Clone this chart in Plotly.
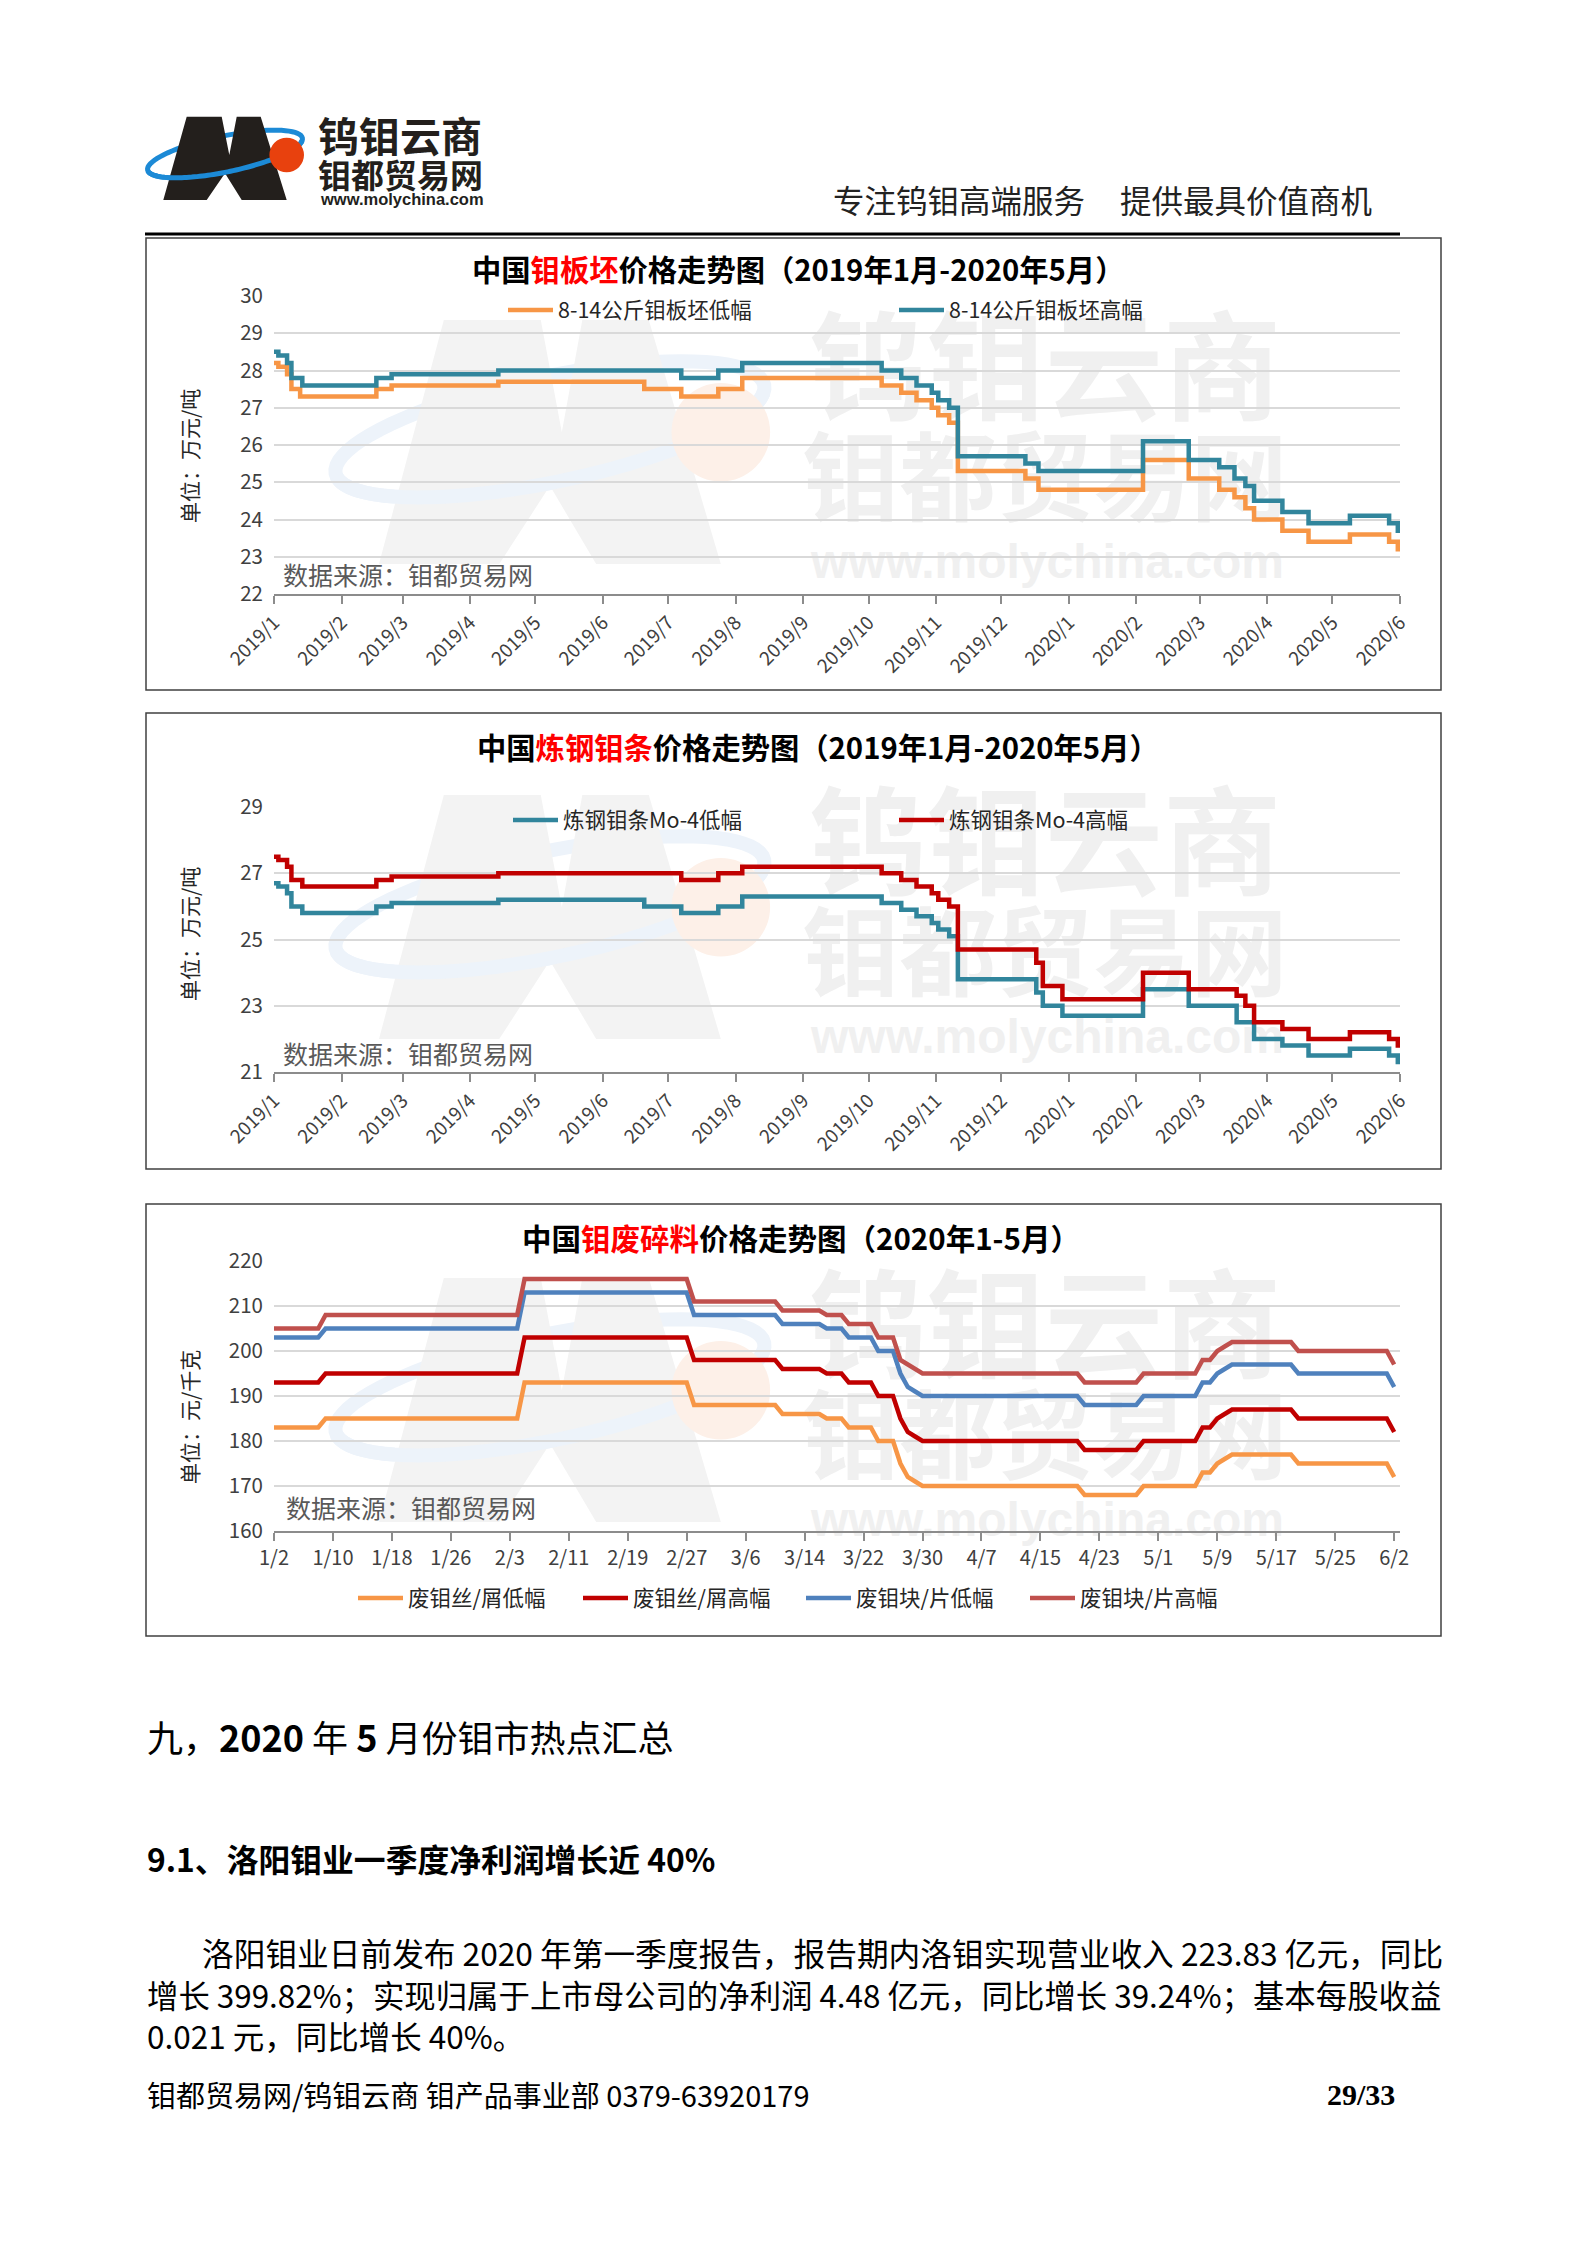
import math
import plotly.graph_objects as go

W, H = 1587, 2245
FONT = "Noto Sans CJK SC"

# ---------------- Chart 1 : 钼板坯 (万元/吨), step start dates ----------------
c1_low_dates = ["2019-01-01", "2019-01-03", "2019-01-07", "2019-01-09", "2019-01-13", "2019-02-17",
                "2019-02-24", "2019-04-14", "2019-06-20", "2019-07-07", "2019-07-24", "2019-08-04",
                "2019-10-07", "2019-10-16", "2019-10-23", "2019-10-30", "2019-11-02", "2019-11-07",
                "2019-11-11", "2019-12-12", "2019-12-18", "2020-02-04", "2020-02-25", "2020-03-10",
                "2020-03-17", "2020-03-22", "2020-03-26", "2020-04-08", "2020-04-20", "2020-05-09",
                "2020-05-27", "2020-05-31", "2020-06-01"]
c1_low_vals = [28.2, 28.1, 27.9, 27.5, 27.3, 27.5,
               27.6, 27.7, 27.5, 27.3, 27.5, 27.8,
               27.6, 27.4, 27.2, 27.0, 26.8, 26.6,
               25.3, 25.1, 24.8, 25.6, 25.1, 24.8,
               24.6, 24.3, 24.0, 23.7, 23.4, 23.6,
               23.4, 23.2, 23.2]
c1_high_dates = ["2019-01-01", "2019-01-03", "2019-01-07", "2019-01-09", "2019-01-14", "2019-02-17",
                 "2019-02-24", "2019-04-14", "2019-07-07", "2019-07-24", "2019-08-04",
                 "2019-10-07", "2019-10-16", "2019-10-23", "2019-10-30", "2019-11-02", "2019-11-07",
                 "2019-11-11", "2019-12-12", "2019-12-18", "2020-02-04", "2020-02-25", "2020-03-10",
                 "2020-03-17", "2020-03-22", "2020-03-26", "2020-04-08", "2020-04-20", "2020-05-09",
                 "2020-05-27", "2020-05-31", "2020-06-01"]
c1_high_vals = [28.5, 28.4, 28.2, 27.8, 27.6, 27.8,
                27.9, 28.0, 27.8, 28.0, 28.2,
                28.0, 27.8, 27.6, 27.4, 27.2, 27.0,
                25.7, 25.5, 25.3, 26.1, 25.6, 25.4,
                25.1, 24.9, 24.5, 24.2, 23.9, 24.1,
                23.9, 23.7, 23.7]
c1_names = ["8-14公斤钼板坯低幅", "8-14公斤钼板坯高幅"]

# ---------------- Chart 2 : 炼钢钼条 (万元/吨) ----------------
c2_low_dates = ["2019-01-01", "2019-01-03", "2019-01-07", "2019-01-09", "2019-01-14", "2019-02-17",
                "2019-02-24", "2019-04-14", "2019-06-20", "2019-07-07", "2019-07-24", "2019-08-04",
                "2019-10-07", "2019-10-16", "2019-10-23", "2019-10-30", "2019-11-02", "2019-11-07",
                "2019-11-11", "2019-12-17", "2019-12-20", "2019-12-29", "2020-02-04", "2020-02-25",
                "2020-03-18", "2020-03-26", "2020-04-08", "2020-04-20", "2020-05-09", "2020-05-27",
                "2020-05-31", "2020-06-01"]
c2_low_vals = [26.7, 26.6, 26.4, 26.0, 25.8, 26.0,
               26.1, 26.2, 26.0, 25.8, 26.0, 26.3,
               26.1, 25.9, 25.7, 25.5, 25.3, 25.1,
               23.8, 23.4, 23.0, 22.7, 23.5, 23.0,
               22.5, 22.0, 21.8, 21.5, 21.7, 21.5,
               21.3, 21.3]
c2_high_dates = ["2019-01-01", "2019-01-03", "2019-01-07", "2019-01-09", "2019-01-14", "2019-02-17",
                 "2019-02-24", "2019-04-14", "2019-07-07", "2019-07-24", "2019-08-04",
                 "2019-10-07", "2019-10-16", "2019-10-23", "2019-10-30", "2019-11-02", "2019-11-07",
                 "2019-11-11", "2019-12-17", "2019-12-20", "2019-12-29", "2020-02-04", "2020-02-25",
                 "2020-03-18", "2020-03-22", "2020-03-26", "2020-04-08", "2020-04-20", "2020-05-09",
                 "2020-05-27", "2020-05-31", "2020-06-01"]
c2_high_vals = [27.5, 27.4, 27.2, 26.8, 26.6, 26.8,
                26.9, 27.0, 26.8, 27.0, 27.2,
                27.0, 26.8, 26.6, 26.4, 26.2, 26.0,
                24.7, 24.3, 23.6, 23.2, 24.0, 23.5,
                23.3, 23.0, 22.5, 22.3, 22.0, 22.2,
                22.0, 21.8, 21.8]
c2_names = ["炼钢钼条Mo-4低幅", "炼钢钼条Mo-4高幅"]

c12_tick_dates = ["2019-01-01", "2019-02-01", "2019-03-01", "2019-04-01", "2019-05-01", "2019-06-01",
                  "2019-07-01", "2019-08-01", "2019-09-01", "2019-10-01", "2019-11-01", "2019-12-01",
                  "2020-01-01", "2020-02-01", "2020-03-01", "2020-04-01", "2020-05-01", "2020-06-01"]
c12_tick_text = ["2019/1", "2019/2", "2019/3", "2019/4", "2019/5", "2019/6", "2019/7", "2019/8",
                 "2019/9", "2019/10", "2019/11", "2019/12", "2020/1", "2020/2", "2020/3", "2020/4",
                 "2020/5", "2020/6"]

# ---------------- Chart 3 : 钼废碎料 (元/千克) ----------------
c3_dates = ["2020-01-02", "2020-01-08", "2020-01-09", "2020-02-04", "2020-02-05", "2020-02-27",
            "2020-02-28", "2020-03-10", "2020-03-11", "2020-03-16", "2020-03-17", "2020-03-19",
            "2020-03-20", "2020-03-23", "2020-03-24", "2020-03-26", "2020-03-27", "2020-03-28",
            "2020-03-29", "2020-03-30", "2020-04-20", "2020-04-21", "2020-04-28", "2020-04-29",
            "2020-05-06", "2020-05-07", "2020-05-08", "2020-05-09", "2020-05-10", "2020-05-11",
            "2020-05-19", "2020-05-20", "2020-06-01", "2020-06-02"]
c3_wire_low = [183, 183, 185, 185, 193, 193,
               188, 188, 186, 186, 185, 185,
               183, 183, 180, 180, 175, 172,
               171, 170, 170, 168, 168, 170,
               170, 173, 173, 175, 176, 177,
               177, 175, 175, 172]
c3_wire_high = [193, 193, 195, 195, 203, 203,
                198, 198, 196, 196, 195, 195,
                193, 193, 190, 190, 185, 182,
                181, 180, 180, 178, 178, 180,
                180, 183, 183, 185, 186, 187,
                187, 185, 185, 182]
c3_block_low = [203, 203, 205, 205, 213, 213,
                208, 208, 206, 206, 205, 205,
                203, 203, 200, 200, 195, 192,
                191, 190, 190, 188, 188, 190,
                190, 193, 193, 195, 196, 197,
                197, 195, 195, 192]
c3_block_high = [205, 205, 208, 208, 216, 216,
                 211, 211, 209, 209, 208, 208,
                 206, 206, 203, 203, 198, 197,
                 196, 195, 195, 193, 193, 195,
                 195, 198, 198, 200, 201, 202,
                 202, 200, 200, 197]
c3_names = ["废钼丝/屑低幅", "废钼丝/屑高幅", "废钼块/片低幅", "废钼块/片高幅"]
c3_tick_dates = ["2020-01-02", "2020-01-10", "2020-01-18", "2020-01-26", "2020-02-03", "2020-02-11",
                 "2020-02-19", "2020-02-27", "2020-03-06", "2020-03-14", "2020-03-22", "2020-03-30",
                 "2020-04-07", "2020-04-15", "2020-04-23", "2020-05-01", "2020-05-09", "2020-05-17",
                 "2020-05-25", "2020-06-02"]
c3_tick_text = ["1/2", "1/10", "1/18", "1/26", "2/3", "2/11", "2/19", "2/27", "3/6", "3/14", "3/22",
                "3/30", "4/7", "4/15", "4/23", "5/1", "5/9", "5/17", "5/25", "6/2"]

ORANGE, TEAL, RED, BLUE, DRED = "#F79646", "#31859C", "#C00000", "#4F81BD", "#C0504D"


def px(x):
    return x / W


def py(y):
    return 1 - y / H


fig = go.Figure()

# ---------------- traces ----------------
fig.add_trace(go.Scatter(x=c1_low_dates, y=c1_low_vals, name=c1_names[0], mode="lines",
                         line=dict(color=ORANGE, width=4.5, shape="hv"), xaxis="x", yaxis="y", legend="legend"))
fig.add_trace(go.Scatter(x=c1_high_dates, y=c1_high_vals, name=c1_names[1], mode="lines",
                         line=dict(color=TEAL, width=4.5, shape="hv"), xaxis="x", yaxis="y", legend="legend2"))
fig.add_trace(go.Scatter(x=c2_low_dates, y=c2_low_vals, name=c2_names[0], mode="lines",
                         line=dict(color=TEAL, width=4.5, shape="hv"), xaxis="x2", yaxis="y2", legend="legend3"))
fig.add_trace(go.Scatter(x=c2_high_dates, y=c2_high_vals, name=c2_names[1], mode="lines",
                         line=dict(color=RED, width=4.5, shape="hv"), xaxis="x2", yaxis="y2", legend="legend4"))
for vals, col, nm, lg in [(c3_wire_low, ORANGE, c3_names[0], "legend5"),
                          (c3_wire_high, RED, c3_names[1], "legend6"),
                          (c3_block_low, BLUE, c3_names[2], "legend7"),
                          (c3_block_high, DRED, c3_names[3], "legend8")]:
    fig.add_trace(go.Scatter(x=c3_dates, y=vals, name=nm, mode="lines",
                             line=dict(color=col, width=4.5), xaxis="x3", yaxis="y3", legend=lg))

# ---------------- axes ----------------
XL, XR = 274, 1400
tickfont = dict(family=FONT, size=19, color="#404040")
ytickfont = dict(family=FONT, size=20.5, color="#404040")
xcommon = dict(type="date", showgrid=False, showline=True, linecolor="#8C8C8C", linewidth=2,
               ticks="outside", ticklen=8, tickwidth=1.5, tickcolor="#8C8C8C", tickfont=tickfont,
               zeroline=False, domain=[px(XL), px(XR)], automargin=False)
ycommon = dict(showgrid=True, gridcolor="#D9D9D9", gridwidth=1.5, showline=False, ticks="",
               tickfont=ytickfont, zeroline=False, automargin=False, ticklabelstandoff=10)

fig.update_layout(
    xaxis=dict(xcommon, range=["2019-01-01", "2020-06-01"], tickvals=c12_tick_dates,
               ticktext=c12_tick_text, tickangle=-45, anchor="y"),
    yaxis=dict(ycommon, range=[22, 30], tick0=22, dtick=1, domain=[py(594), py(296)], anchor="x"),
    xaxis2=dict(xcommon, range=["2019-01-01", "2020-06-01"], tickvals=c12_tick_dates,
                ticktext=c12_tick_text, tickangle=-45, anchor="y2"),
    yaxis2=dict(ycommon, range=[21, 29], tick0=21, dtick=2, domain=[py(1072), py(807)], anchor="x2"),
    xaxis3=dict(xcommon, range=["2020-01-02", "2020-06-02 19:00"], tickvals=c3_tick_dates,
                ticktext=c3_tick_text, tickangle=0, anchor="y3",
                tickfont=dict(family=FONT, size=20, color="#404040")),
    yaxis3=dict(ycommon, range=[160, 220], tick0=160, dtick=10, domain=[py(1531), py(1261)], anchor="x3"),
)


def legend_at(x, y):
    return dict(x=px(x), y=py(y), xanchor="left", yanchor="middle", orientation="h",
                bgcolor="rgba(0,0,0,0)", borderwidth=0, itemwidth=45,
                font=dict(family=FONT, size=21.5, color="#262626"))


fig.update_layout(
    legend=legend_at(503, 310), legend2=legend_at(894, 310),
    legend3=legend_at(508, 820), legend4=legend_at(894, 820),
    legend5=legend_at(353, 1598), legend6=legend_at(578, 1598),
    legend7=legend_at(801, 1598), legend8=legend_at(1025, 1598),
)

# ---------------- shapes ----------------
shapes = []


def ellipse_pts(cx, cy, rx, ry, ang, t0, t1, n=80):
    a = math.radians(ang)
    pts = []
    for i in range(n + 1):
        t = t0 + (t1 - t0) * i / n
        x = cx + rx * math.cos(t) * math.cos(a) - ry * math.sin(t) * math.sin(a)
        y = cy + rx * math.cos(t) * math.sin(a) + ry * math.sin(t) * math.cos(a)
        pts.append((x, y))
    return pts


def path_of(pts, close=False):
    s = "M " + " L ".join(f"{px(x):.5f},{py(y):.5f}" for x, y in pts)
    return s + (" Z" if close else "")


# logo M outline (page pixels)
M_PTS = [(163.3, 200), (186.7, 116.7), (221.7, 116.7), (229.3, 155), (236.7, 116.7), (260.7, 116.7),
         (286.7, 200), (241.7, 200), (225, 173.3), (206.7, 200)]


def logo(ox, oy, sx, sy, c_m, c_b, c_o, bw, layer):
    tf = lambda p: (ox + (p[0] - 163.3) * sx, oy + (p[1] - 116.7) * sy)
    cx, cy = tf((225, 154))
    rx, ry = 79 * sx, 18 * sy
    full = ellipse_pts(cx, cy, rx, ry, -11.7, 0, 2 * math.pi)
    shapes.append(dict(type="path", xref="paper", yref="paper", path=path_of(full, True),
                       line=dict(color=c_b, width=bw), fillcolor="rgba(0,0,0,0)", layer=layer))
    shapes.append(dict(type="path", xref="paper", yref="paper", path=path_of([tf(p) for p in M_PTS], True),
                       line=dict(width=0), fillcolor=c_m, layer=layer))
    front = ellipse_pts(cx, cy, rx, ry, -11.7, 0.15, math.pi - 0.05)
    shapes.append(dict(type="path", xref="paper", yref="paper", path=path_of(front),
                       line=dict(color=c_b, width=bw), fillcolor="rgba(0,0,0,0)", layer=layer))
    ocx, ocy = tf((286.7, 155))
    r = 17.3 * (sx + sy) / 2
    shapes.append(dict(type="circle", xref="paper", yref="paper", x0=px(ocx - r), x1=px(ocx + r),
                       y0=py(ocy + r), y1=py(ocy - r), line=dict(width=0), fillcolor=c_o, layer=layer))


# header logo
logo(163.3, 116.7, 1, 1, "#231F1C", "#1C8AD6", "#E8410E", 5, "above")

# header rule
shapes.append(dict(type="line", xref="paper", yref="paper", x0=px(145), x1=px(1400), y0=py(234), y1=py(234),
                   line=dict(color="#000000", width=3)))

# chart boxes and watermarks
for top, bot, off in [(238, 690, 0), (713, 1169, 475), (1204, 1636, 958)]:
    shapes.append(dict(type="rect", xref="paper", yref="paper", x0=px(146), x1=px(1441), y0=py(bot), y1=py(top),
                       line=dict(color="#404040", width=1.5), fillcolor="rgba(0,0,0,0)", layer="below"))
    logo(379, 320 + off, 2.77, 2.93, "#F3F3F3", "#EDF3FA", "#FDF0E8", 14, "below")
    for txt, cy, size in [("钨钼云商", 378, 118), ("钼都贸易网", 486, 97)]:
        shapes.append(dict(type="rect", xref="paper", yref="paper", x0=px(800), x1=px(1290),
                           y0=py(cy + off + 40), y1=py(cy + off - 40), line=dict(width=0),
                           fillcolor="rgba(0,0,0,0)", layer="below",
                           label=dict(text="<b>" + txt + "</b>", font=dict(family=FONT, size=size, color="#F0F0F0"),
                                      textposition="middle center")))
    shapes.append(dict(type="rect", xref="paper", yref="paper", x0=px(800), x1=px(1295),
                       y0=py(556 + off + 20), y1=py(556 + off - 20), line=dict(width=0),
                       fillcolor="rgba(0,0,0,0)", layer="below",
                       label=dict(text="<b>www.molychina.com</b>",
                                  font=dict(family="Liberation Sans", size=48, color="#F0F0F0"),
                                  textposition="middle center")))

fig.update_layout(shapes=shapes)

# ---------------- annotations ----------------
ann = []


def text(x, y, s, size, color="#000000", xanchor="left", family=FONT, angle=0):
    ann.append(dict(x=px(x), y=py(y), xref="paper", yref="paper", text=s, showarrow=False,
                    xanchor=xanchor, yanchor="middle", textangle=angle,
                    font=dict(family=family, size=size, color=color)))


# header texts
text(400, 134, "<b>钨钼云商</b>", 41, "#231F1C", "center")
text(400, 174, "<b>钼都贸易网</b>", 33, "#231F1C", "center")
text(402, 199.5, "<b>www.molychina.com</b>", 16.5, "#231F1C", "center", "Liberation Sans")
text(831, 199, "专注钨钼高端服务", 31.5, "#222222")
text(1118, 199, "提供最具价值商机", 31.5, "#222222")

# chart titles
text(798, 268, "<b>中国<span style='color:#FF0000'>钼板坯</span>价格走势图（2019年1月-2020年5月）</b>", 29.3, "#000000", "center")
text(818, 746, "<b>中国<span style='color:#FF0000'>炼钢钼条</span>价格走势图（2019年1月-2020年5月）</b>", 29.3, "#000000", "center")
text(801, 1237, "<b>中国<span style='color:#FF0000'>钼废碎料</span>价格走势图（2020年1-5月）</b>", 29.5, "#000000", "center")

# unit labels
text(189, 456, "单位：万元/吨", 21, "#262626", "center", angle=-90)
text(189, 934, "单位：万元/吨", 21, "#262626", "center", angle=-90)
text(189, 1417, "单位：元/千克", 21, "#262626", "center", angle=-90)

# data source
text(281, 574, "数据来源：钼都贸易网", 25, "#595959")
text(281, 1053, "数据来源：钼都贸易网", 25, "#595959")
text(284, 1507, "数据来源：钼都贸易网", 25, "#595959")

# article text
text(145, 1736, "九，<b>2020</b> 年 <b>5</b> 月份钼市热点汇总", 36)
text(145, 1858, "<b>9.1、洛阳钼业一季度净利润增长近 40%</b>", 31.8)
text(200, 1952, "洛阳钼业日前发布 2020 年第一季度报告，报告期内洛钼实现营业收入 223.83 亿元，同比", 31.7)
text(145, 1994, "增长 399.82%；实现归属于上市母公司的净利润 4.48 亿元，同比增长 39.24%；基本每股收益", 31.4)
text(145, 2035, "0.021 元，同比增长 40%。", 31.5)

# footer
text(145, 2094, "钼都贸易网/钨钼云商 钼产品事业部 0379-63920179", 29)
text(1397, 2094, "<b>29/33</b>", 30, "#000000", "right", "Liberation Serif")

fig.update_layout(annotations=ann)

fig.update_layout(width=W, height=H, margin=dict(l=0, r=0, t=0, b=0, pad=0),
                  paper_bgcolor="white", plot_bgcolor="rgba(0,0,0,0)",
                  showlegend=True, font=dict(family=FONT))

fig.write_html("out.html", config={"displayModeBar": False},
               post_script="document.body.style.margin='0';")
